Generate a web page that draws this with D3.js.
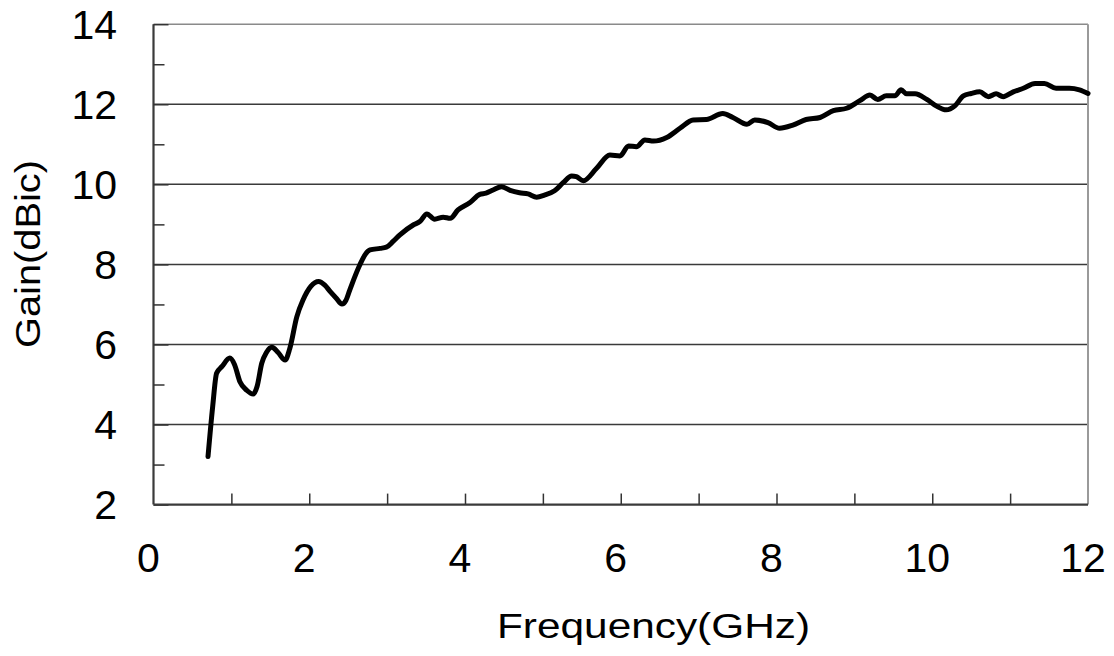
<!DOCTYPE html>
<html>
<head>
<meta charset="utf-8">
<script src="https://cdn.jsdelivr.net/npm/d3@7"></script>
<style>
  html, body { margin: 0; padding: 0; background: #fff; }
  svg { display: block; }
  text { font-family: "Liberation Sans", Arial, sans-serif; fill: #000; }
</style>
</head>
<body>
<svg id="chart" width="1114" height="656"></svg>
<script>
// Data
const freq = [0.70,0.76,0.81,0.88,0.98,1.04,1.11,1.20,1.28,1.33,1.39,1.45,1.52,1.60,1.69,1.75,1.84,1.92,2.02,2.12,2.20,2.27,2.35,2.42,2.47,2.52,2.65,2.72,2.78,2.91,2.99,3.08,3.16,3.34,3.42,3.51,3.61,3.72,3.81,3.91,4.06,4.19,4.27,4.36,4.47,4.59,4.70,4.81,4.92,5.02,5.15,5.26,5.37,5.43,5.52,5.69,5.86,5.99,6.10,6.20,6.31,6.42,6.59,6.76,6.93,7.10,7.31,7.44,7.62,7.72,7.89,8.04,8.21,8.38,8.56,8.73,8.90,9.07,9.20,9.30,9.41,9.52,9.60,9.67,9.78,9.93,10.05,10.18,10.29,10.40,10.50,10.61,10.72,10.82,10.91,11.04,11.17,11.32,11.44,11.59,11.76,11.89,12.00];
const gain = [3.20,4.45,5.28,5.45,5.66,5.50,5.07,4.85,4.76,4.95,5.53,5.80,5.93,5.80,5.61,5.90,6.69,7.11,7.45,7.57,7.48,7.32,7.15,7.01,7.10,7.36,7.99,8.25,8.36,8.40,8.43,8.58,8.73,8.99,9.07,9.26,9.13,9.18,9.15,9.36,9.54,9.75,9.78,9.86,9.94,9.84,9.79,9.76,9.68,9.73,9.84,10.04,10.21,10.19,10.09,10.40,10.73,10.71,10.96,10.94,11.11,11.08,11.17,11.40,11.61,11.62,11.77,11.67,11.50,11.61,11.54,11.40,11.48,11.62,11.67,11.84,11.90,12.09,12.23,12.12,12.21,12.21,12.36,12.26,12.26,12.12,11.96,11.86,11.96,12.21,12.27,12.31,12.19,12.26,12.19,12.31,12.40,12.52,12.52,12.40,12.40,12.36,12.27];
const xTickLabels = [0,2,4,6,8,10,12];
const yTickLabels = [2,4,6,8,10,12,14];
const xTitle = "Frequency(GHz)";
const yTitle = "Gain(dBic)";

const svg = d3.select("#chart");
const L = 153.5, R = 1088, T = 24.2, B = 504.6;
const x = d3.scaleLinear().domain([0, 12]).range([L, R]);
const y = d3.scaleLinear().domain([2, 14]).range([B, T]);

// Gridlines
svg.append("g").selectAll("line")
  .data([4,6,8,10,12])
  .join("line")
  .attr("x1", L).attr("x2", R)
  .attr("y1", d => y(d)).attr("y2", d => y(d))
  .attr("stroke", "#3a3a3a").attr("stroke-width", 1.5);

// Top and right border
svg.append("line").attr("x1", L).attr("x2", R).attr("y1", T).attr("y2", T)
  .attr("stroke", "#8a8a8a").attr("stroke-width", 1.6);
svg.append("line").attr("x1", R).attr("x2", R).attr("y1", T).attr("y2", B)
  .attr("stroke", "#9a9a9a").attr("stroke-width", 2);

// Y axis (inward ticks)
const yAxisMajor = d3.axisRight(y).tickValues(d3.range(2, 15, 2)).tickSize(15).tickFormat("");
const gy = svg.append("g").attr("transform", `translate(${L},0)`).call(yAxisMajor);
const yAxisMinor = d3.axisRight(y).tickValues(d3.range(3, 14, 2)).tickSize(11).tickFormat("");
svg.append("g").attr("transform", `translate(${L},0)`).call(yAxisMinor)
  .call(g => g.select(".domain").remove());
svg.selectAll(".tick line").attr("stroke", "#333").attr("stroke-width", 1.5);
gy.select(".domain").attr("stroke", "#3a3a3a").attr("stroke-width", 2.2).attr("d", `M0,${T}V${B}`);

// X axis (inward ticks)
const xAxis = d3.axisTop(x).tickValues(d3.range(1, 12)).tickSize(11).tickFormat("");
const gx = svg.append("g").attr("transform", `translate(0,${B})`).call(xAxis);
gx.selectAll(".tick line").attr("stroke", "#333").attr("stroke-width", 1.5);
gx.select(".domain").attr("stroke", "#3a3a3a").attr("stroke-width", 2.2).attr("d", `M${L},0H${R}`);

// Tick labels
svg.append("g").selectAll("text")
  .data(yTickLabels).join("text")
  .attr("x", 117).attr("y", d => y(d)).attr("dy", "0.355em")
  .attr("text-anchor", "end").attr("font-size", 41).text(d => d);
svg.append("g").selectAll("text")
  .data(xTickLabels).join("text")
  .attr("x", d => x(d) - 5).attr("y", 572)
  .attr("text-anchor", "middle").attr("font-size", 41).text(d => d);

// Axis titles
svg.append("text").attr("x", 497).attr("y", 638)
  .attr("font-size", 35).attr("textLength", 313).attr("lengthAdjust", "spacingAndGlyphs")
  .text(xTitle);
svg.append("text").attr("transform", "translate(40,348) rotate(-90)")
  .attr("font-size", 35).attr("textLength", 188).attr("lengthAdjust", "spacingAndGlyphs")
  .text(yTitle);

// Curve
const data = freq.map((f, i) => [f, gain[i]]);
svg.append("path").datum(data)
  .attr("fill", "none").attr("stroke", "#000").attr("stroke-width", 5)
  .attr("stroke-linejoin", "round").attr("stroke-linecap", "round")
  .attr("d", d3.line().x(d => x(d[0])).y(d => y(d[1])).curve(d3.curveMonotoneX));
</script>
</body>
</html>
